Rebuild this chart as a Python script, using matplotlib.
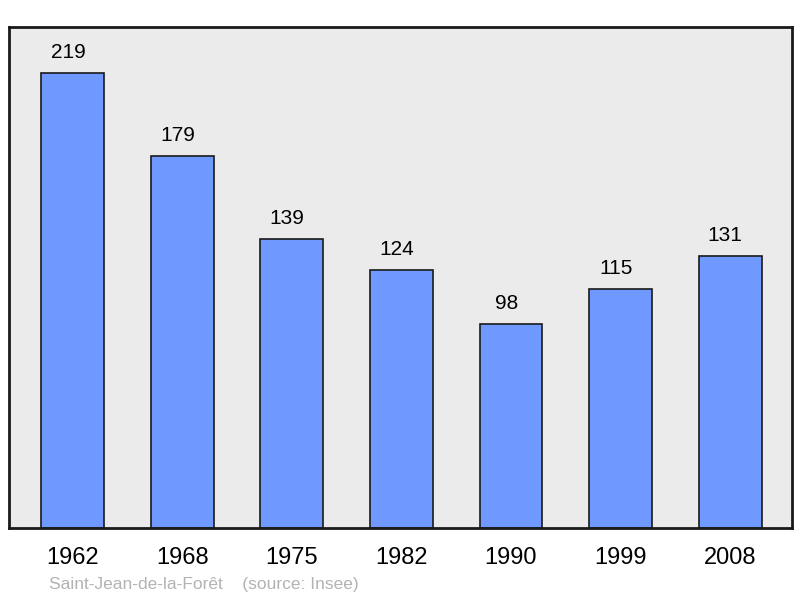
import matplotlib.pyplot as plt

plt.rcParams['font.family'] = ['Liberation Sans', 'DejaVu Sans']

# Population data
years = ['1962', '1968', '1975', '1982', '1990', '1999', '2008']
population = [219, 179, 139, 124, 98, 115, 131]

fig = plt.figure(figsize=(8, 5.98), dpi=100)
ax = fig.add_axes([9 / 800, 70 / 598, 783 / 800, 501 / 598])
ax.set_facecolor('#ebebeb')

x = range(len(years))
bars = ax.bar(x, population, width=0.575, color='#7099ff',
              edgecolor='#1a1a1a', linewidth=1.2, zorder=2)

# value labels above bars
for xi, v in zip(x, population):
    ax.annotate(str(v), (xi, v), xytext=(-3.5, 8), textcoords='offset points',
                ha='center', va='bottom', fontsize=15)

ax.set_xlim(-0.584, 6.566)
ax.set_ylim(0, 241)
ax.set_xticks(list(x))
ax.set_xticklabels(years, fontsize=17)
ax.tick_params(axis='x', length=0, pad=13.5)
ax.set_yticks([])
for s in ax.spines.values():
    s.set_linewidth(2)
    s.set_color('#1a1a1a')

fig.text(49 / 800, 1 - 584 / 598, 'Saint-Jean-de-la-Forêt    (source: Insee)',
         fontsize=12.5, color='#b3b3b3', ha='left', va='center')

fig.savefig('out.png', dpi=100)
